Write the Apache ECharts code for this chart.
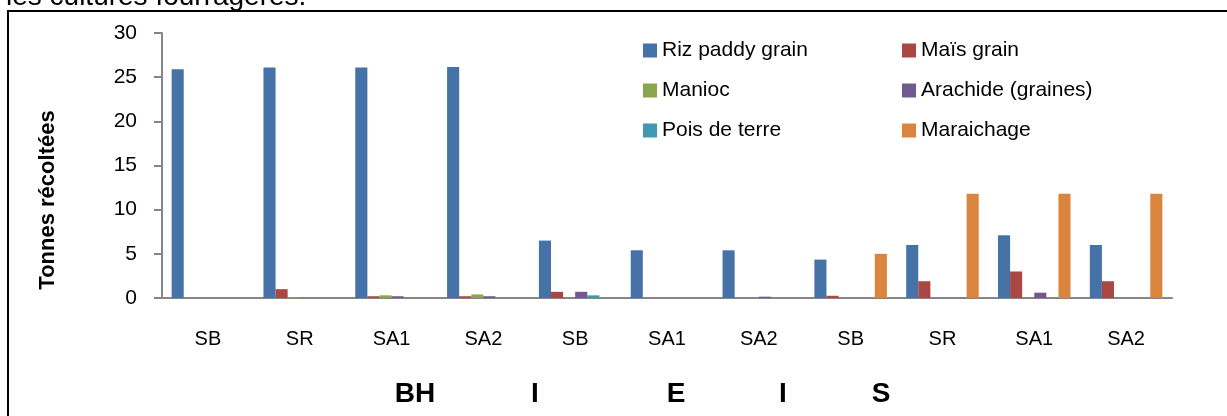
<!DOCTYPE html>
<html>
<head>
<meta charset="utf-8">
<script src="https://cdn.jsdelivr.net/npm/echarts@6/dist/echarts.min.js"></script>
<style>
    html, body { margin: 0; padding: 0; background: #fff; }
    #chart { width: 1227px; height: 416px; }
</style>
</head>
<body>
<div id="chart"></div>
<script>
// sites en abscisse
const categories = ['SB', 'SR', 'SA1', 'SA2', 'SB', 'SA1', 'SA2', 'SB', 'SR', 'SA1', 'SA2'];
const groupLabels = ['BH', 'I', 'E', 'I', 'S'];
const yTicks = { min: 0, max: 30, interval: 5 };

const riz = [25.9, 26.1, 26.1, 26.15, 6.5, 5.4, 5.4, 4.35, 6.0, 7.1, 6.0];
const mais = [0, 1.0, 0.2, 0.2, 0.7, 0, 0, 0.25, 1.9, 3.0, 1.9];
const manioc = [0, 0.1, 0.3, 0.4, 0, 0, 0, 0, 0, 0, 0];
const arachide = [0, 0, 0.2, 0.2, 0.7, 0, 0.15, 0, 0, 0.6, 0];
const pois = [0, 0, 0, 0, 0.3, 0, 0, 0, 0, 0, 0];
const maraichage = [0, 0, 0, 0, 0, 0, 0, 5.0, 11.8, 11.8, 11.8];

const seriesDefs = [
    { name: 'Riz paddy grain', data: riz, color: '#4572A7' },
    { name: 'Maïs grain', data: mais, color: '#AA4643' },
    { name: 'Manioc', data: manioc, color: '#89A54E' },
    { name: 'Arachide (graines)', data: arachide, color: '#71588F' },
    { name: 'Pois de terre', data: pois, color: '#4198AF' },
    { name: 'Maraichage', data: maraichage, color: '#DB843D' }
];

const font = '"Liberation Sans", Arial, sans-serif';
const axisColor = '#868686';

const chart = echarts.init(document.getElementById('chart'));

const legendBase = {
    orient: 'vertical',
    top: 35,
    itemWidth: 14,
    itemHeight: 14,
    itemGap: 19,
    icon: 'rect',
    textStyle: { fontFamily: font, fontSize: 21, color: '#000', lineHeight: 20 }
};

// positions des lettres du groupe sous l'axe
const groupX = [415, 535, 676, 783, 881];

chart.setOption({
    animation: false,
    grid: { left: 162, right: 55, top: 33, bottom: 118 },
    legend: [
        Object.assign({}, legendBase, { left: 638, data: ['Riz paddy grain', 'Manioc', 'Pois de terre'] }),
        Object.assign({}, legendBase, { left: 897, data: ['Maïs grain', 'Arachide (graines)', 'Maraichage'] })
    ],
    xAxis: {
        type: 'category',
        data: categories,
        axisLine: { lineStyle: { color: axisColor, width: 2 } },
        axisTick: { length: 9, lineStyle: { color: axisColor, width: 2 } },
        axisLabel: { margin: 31, fontFamily: font, fontSize: 20, color: '#000', interval: 0 }
    },
    yAxis: {
        type: 'value',
        min: yTicks.min,
        max: yTicks.max,
        interval: yTicks.interval,
        splitLine: { show: false },
        axisLine: { show: true, lineStyle: { color: axisColor, width: 2 } },
        axisTick: { show: true, length: 8, lineStyle: { color: axisColor, width: 2 } },
        axisLabel: { margin: 25, fontFamily: font, fontSize: 21, color: '#000' }
    },
    series: seriesDefs.map(s => ({
        name: s.name,
        type: 'bar',
        data: s.data,
        barGap: 0,
        barCategoryGap: '21%',
        itemStyle: { color: s.color }
    })),
    graphic: [
        {
            type: 'polyline',
            shape: { points: [[8, 416], [8, 11], [1227, 11]] },
            style: { stroke: '#000', lineWidth: 2, fill: null }
        },
        {
            type: 'text',
            x: 6, y: 11,
            style: { text: 'les cultures fourragères.', font: '28px ' + font, fill: '#000', verticalAlign: 'bottom' }
        },
        {
            type: 'text',
            x: 48, y: 200,
            rotation: Math.PI / 2,
            style: { text: 'Tonnes récoltées', font: 'bold 22px ' + font, fill: '#000', align: 'center', verticalAlign: 'middle' }
        }
    ].concat(groupLabels.map((t, i) => ({
        type: 'text',
        x: groupX[i], y: 394,
        style: { text: t, font: 'bold 28px ' + font, fill: '#000', align: 'center', verticalAlign: 'middle' }
    })))
});
</script>
</body>
</html>
